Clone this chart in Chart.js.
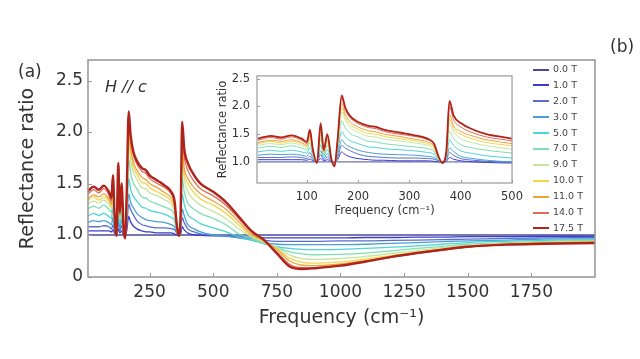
<!DOCTYPE html>
<html lang="en">
<head>
  <meta charset="UTF-8">
  <title>Reflectance ratio vs frequency</title>
  <script src="https://cdn.jsdelivr.net/npm/chart.js"></script>
  <style>
    body {
      margin: 0;
      background: #fff;
      font-family: "DejaVu Sans", sans-serif;
      color: #333;
    }
    #wrap {
      position: relative;
      width: 640px;
      height: 359px;
      overflow: hidden;
    }
    #mainChart { position: absolute; left: 0; top: 0; }
    #insetChart { position: absolute; left: 195px; top: 62px; }
    .tag {
      position: absolute;
      font-size: 17px;
      line-height: 20px;
      color: #333;
    }
    #legend {
      position: absolute;
      left: 533px;
      top: 61px;
      font-size: 9.5px;
      color: #444;
    }
    #legend div {
      height: 15.9px;
      line-height: 15.9px;
      white-space: nowrap;
    }
    #legend .sw {
      display: inline-block;
      width: 16px;
      height: 2px;
      vertical-align: middle;
      margin-right: 4px;
    }
  </style>
</head>
<body>
  <div id="wrap">
    <canvas id="mainChart" width="640" height="359"></canvas>
    <canvas id="insetChart" width="335" height="158"></canvas>
    <div class="tag" style="left:18px; top:61px;">(a)</div>
    <div class="tag" style="left:610px; top:36px;">(b)</div>
    <div class="tag" style="left:105px; top:77px; font-style:italic; font-size:16px;">H // c</div>
    <div id="legend"></div>
  </div>

  <script>
    // frequencies (cm-1) shared by every field
    const freq = [5, 30, 50, 70, 90, 100, 106, 112, 120, 127, 133, 140, 148, 154, 160, 168, 175, 185, 200,
      220, 235, 250, 280, 310, 335, 348, 356, 364, 372, 378, 386, 400, 425, 450, 500,
      550, 600, 650, 700, 750, 800, 850, 900, 1000, 1100, 1200, 1300, 1400, 1500, 1650, 1800, 2000];

    const fieldLabels = ['0.0 T', '1.0 T', '2.0 T', '3.0 T', '5.0 T', '7.0 T', '9.0 T', '10.0 T', '11.0 T', '14.0 T', '17.5 T'];
    const fieldColors = ['#4a4a9c', '#3c3cc8', '#5a6fcc', '#4a9fd6', '#4fd3d3', '#80deb0', '#c6e6a0', '#f0d54e', '#eca23e', '#e06a58', '#b0231a'];

    const t00 = [1, 1, 1, 1, 1, 1, 1, 1, 1, 1, 1, 1, 1, 1, 1, 1, 1, 1, 1, 1, 1, 1, 1, 1, 1, 1,
      1, 1, 1, 1, 1, 1, 1, 1, 1, 1, 1, 1, 1, 1, 1, 1, 1, 1, 1, 1, 1, 1, 1, 1, 1, 1];
    const t10 = [1.04, 1.04, 1.04, 1.04, 1.04, 1.03, 1.05, 1.02, 1.00, 1.06, 1.02, 1.04, 1.00, 0.99, 1.04,
      1.18, 1.13, 1.09, 1.06, 1.04, 1.03, 1.03, 1.02, 1.02, 1.02, 1.01, 1.00, 1.00, 1.01, 1.08, 1.05,
      1.02, 1.00, 0.99, 0.98, 0.98, 0.96, 0.95, 0.93, 0.93, 0.93, 0.93, 0.93, 0.93, 0.94, 0.94, 0.95,
      0.95, 0.96, 0.96, 0.97, 0.97];
    const t20 = [1.08, 1.08, 1.08, 1.09, 1.08, 1.06, 1.10, 1.04, 1.00, 1.13, 1.04, 1.09, 1.01, 0.99, 1.07,
      1.30, 1.25, 1.20, 1.14, 1.10, 1.09, 1.08, 1.07, 1.07, 1.06, 1.05, 1.02, 1.00, 1.03, 1.17, 1.12,
      1.06, 1.03, 1.01, 0.99, 0.97, 0.94, 0.91, 0.87, 0.85, 0.85, 0.85, 0.85, 0.86, 0.86, 0.87, 0.88,
      0.89, 0.90, 0.92, 0.93, 0.94];
    const t30 = [1.12, 1.14, 1.13, 1.14, 1.12, 1.10, 1.17, 1.06, 0.99, 1.20, 1.06, 1.15, 1.01, 0.98, 1.12,
      1.40, 1.32, 1.27, 1.21, 1.17, 1.15, 1.14, 1.13, 1.12, 1.10, 1.08, 1.03, 1.00, 1.05, 1.25, 1.19,
      1.10, 1.06, 1.03, 1.00, 0.98, 0.93, 0.88, 0.82, 0.78, 0.77, 0.77, 0.77, 0.77, 0.78, 0.80, 0.82,
      0.84, 0.86, 0.88, 0.90, 0.91];
    const t50 = [1.18, 1.21, 1.19, 1.21, 1.18, 1.16, 1.26, 1.10, 0.99, 1.31, 1.10, 1.22, 1.02, 0.96, 1.18,
      1.55, 1.45, 1.38, 1.33, 1.27, 1.26, 1.24, 1.22, 1.20, 1.17, 1.14, 1.04, 0.99, 1.07, 1.40, 1.30,
      1.20, 1.15, 1.11, 1.07, 1.03, 0.96, 0.88, 0.79, 0.72, 0.68, 0.66, 0.65, 0.66, 0.68, 0.71, 0.74,
      0.78, 0.82, 0.85, 0.87, 0.89];
    const t70 = [1.25, 1.28, 1.26, 1.29, 1.25, 1.22, 1.35, 1.13, 0.99, 1.42, 1.13, 1.30, 1.03, 0.95, 1.24,
      1.74, 1.61, 1.51, 1.45, 1.37, 1.36, 1.33, 1.30, 1.27, 1.24, 1.19, 1.06, 0.99, 1.10, 1.55, 1.42,
      1.31, 1.25, 1.21, 1.16, 1.10, 1.01, 0.92, 0.80, 0.70, 0.60, 0.55, 0.53, 0.54, 0.57, 0.62, 0.68,
      0.73, 0.78, 0.82, 0.85, 0.87];
    const t90 = [1.30, 1.33, 1.31, 1.34, 1.30, 1.26, 1.41, 1.16, 0.99, 1.50, 1.16, 1.36, 1.04, 0.94, 1.28,
      1.90, 1.74, 1.62, 1.54, 1.46, 1.45, 1.41, 1.38, 1.34, 1.30, 1.23, 1.08, 0.99, 1.13, 1.70, 1.54,
      1.42, 1.34, 1.29, 1.23, 1.16, 1.06, 0.96, 0.83, 0.70, 0.52, 0.44, 0.42, 0.44, 0.49, 0.56, 0.63,
      0.70, 0.75, 0.80, 0.83, 0.85];
    const t100 = [1.33, 1.37, 1.34, 1.37, 1.33, 1.28, 1.45, 1.17, 0.98, 1.55, 1.17, 1.39, 1.04, 0.94, 1.31,
      1.98, 1.80, 1.67, 1.59, 1.51, 1.50, 1.46, 1.42, 1.38, 1.33, 1.26, 1.09, 0.99, 1.14, 1.78, 1.60,
      1.50, 1.41, 1.35, 1.29, 1.21, 1.10, 0.99, 0.85, 0.68, 0.45, 0.35, 0.33, 0.36, 0.43, 0.51, 0.59,
      0.67, 0.73, 0.79, 0.82, 0.84];
    const t110 = [1.35, 1.39, 1.37, 1.40, 1.35, 1.30, 1.49, 1.18, 0.98, 1.59, 1.18, 1.42, 1.04, 0.93, 1.34,
      2.06, 1.86, 1.72, 1.63, 1.56, 1.54, 1.50, 1.46, 1.41, 1.36, 1.28, 1.09, 0.98, 1.15, 1.85, 1.65,
      1.55, 1.46, 1.40, 1.33, 1.25, 1.13, 1.01, 0.87, 0.66, 0.38, 0.28, 0.27, 0.31, 0.39, 0.48, 0.57,
      0.65, 0.72, 0.78, 0.81, 0.83];
    const t140 = [1.39, 1.44, 1.41, 1.45, 1.39, 1.33, 1.54, 1.20, 0.98, 1.65, 1.20, 1.47, 1.05, 0.93, 1.37,
      2.15, 1.94, 1.79, 1.69, 1.62, 1.60, 1.55, 1.50, 1.46, 1.40, 1.31, 1.11, 0.98, 1.18, 2.00, 1.76,
      1.63, 1.52, 1.45, 1.38, 1.29, 1.16, 1.03, 0.88, 0.60, 0.30, 0.22, 0.22, 0.28, 0.37, 0.47, 0.56,
      0.64, 0.71, 0.77, 0.80, 0.82];
    const t175 = [1.42, 1.47, 1.44, 1.48, 1.42, 1.36, 1.58, 1.22, 0.98, 1.70, 1.22, 1.50, 1.05, 0.92, 1.40,
      2.20, 1.98, 1.82, 1.72, 1.65, 1.63, 1.58, 1.53, 1.48, 1.42, 1.33, 1.12, 0.98, 1.20, 2.10, 1.84,
      1.70, 1.58, 1.50, 1.42, 1.32, 1.18, 1.04, 0.88, 0.56, 0.25, 0.19, 0.21, 0.27, 0.37, 0.48, 0.57,
      0.65, 0.72, 0.77, 0.79, 0.81];

    const series = [t00, t10, t20, t30, t50, t70, t90, t100, t110, t140, t175];

    const mainXTicks = [250, 500, 750, 1000, 1250, 1500, 1750];
    const mainYTicks = [0, 1.0, 1.5, 2.0, 2.5];
    const insetXTicks = [100, 200, 300, 400, 500];
    const insetYTicks = [1.0, 1.5, 2.0, 2.5];

    const FONT = '"DejaVu Sans", sans-serif';
    const FRAME = '#9a9a9a';

    // main y axis is squeezed below 1.0 (0..1 takes much less room than 1..2.7)
    const BREAK_FRAC = 42 / 217;
    class BrokenScale extends Chart.LinearScale {
      static id = 'broken';
      static defaults = Chart.LinearScale.defaults;
      getPixelForValue(value) {
        if (value === null || value === undefined || isNaN(value)) return NaN;
        let d;
        if (value <= 1) d = (value - this.min) / (1 - this.min) * BREAK_FRAC;
        else d = BREAK_FRAC + (value - 1) / (this.max - 1) * (1 - BREAK_FRAC);
        return this.getPixelForDecimal(d);
      }
      getValueForPixel(pixel) {
        const d = this.getDecimalForPixel(pixel);
        if (d <= BREAK_FRAC) return this.min + d / BREAK_FRAC * (1 - this.min);
        return 1 + (d - BREAK_FRAC) / (1 - BREAK_FRAC) * (this.max - 1);
      }
    }
    Chart.register(BrokenScale);

    // box around the plot plus short inward tick marks
    const framePlugin = {
      id: 'frame',
      afterDraw(chart, args, opts) {
        const { ctx, chartArea: a } = chart;
        const xs = chart.scales.x, ys = chart.scales.y;
        ctx.save();
        ctx.strokeStyle = opts.color;
        ctx.lineWidth = opts.width;
        ctx.strokeRect(a.left, a.top, a.right - a.left, a.bottom - a.top);
        ctx.lineWidth = 1;
        ctx.beginPath();
        xs.ticks.forEach(t => {
          const px = Math.round(xs.getPixelForValue(t.value)) + 0.5;
          ctx.moveTo(px, a.bottom);
          ctx.lineTo(px, a.bottom - opts.tick);
        });
        ys.ticks.forEach(t => {
          const py = Math.round(ys.getPixelForValue(t.value)) + 0.5;
          ctx.moveTo(a.left, py);
          ctx.lineTo(a.left + opts.tick, py);
        });
        ctx.stroke();
        ctx.restore();
      }
    };

    function makeDatasets(redWidth, otherWidth) {
      return series.map((vals, i) => ({
        label: fieldLabels[i],
        data: freq.map((f, j) => ({ x: f, y: vals[j] })),
        borderColor: fieldColors[i],
        borderWidth: i === series.length - 1 ? redWidth : otherWidth,
        pointRadius: 0,
        cubicInterpolationMode: 'monotone',
        order: series.length - 1 - i
      }));
    }

    new Chart(document.getElementById('mainChart'), {
      type: 'line',
      data: { datasets: makeDatasets(2.4, 1.3) },
      options: {
        responsive: false,
        animation: false,
        devicePixelRatio: 1,
        layout: { padding: { left: 0, top: 60, right: 45, bottom: 0 } },
        plugins: {
          legend: { display: false },
          tooltip: { enabled: false },
          frame: { color: FRAME, width: 1.6, tick: 4 }
        },
        scales: {
          x: {
            type: 'linear',
            min: 8,
            max: 2000,
            grid: { display: false, drawTicks: false },
            border: { display: false },
            afterBuildTicks: s => { s.ticks = mainXTicks.map(v => ({ value: v })); },
            afterFit: s => { s.height = 82; },
            ticks: { autoSkip: false, maxRotation: 0, padding: 5, color: '#333', font: { size: 17, family: FONT }, callback: v => String(v) },
            title: { display: true, text: 'Frequency (cm⁻¹)', color: '#333', font: { size: 19, family: FONT }, padding: { top: 0, bottom: 29.6 } }
          },
          y: {
            type: 'broken',
            min: 0,
            max: 2.7,
            grid: { display: false, drawTicks: false },
            border: { display: false },
            afterBuildTicks: s => { s.ticks = mainYTicks.map(v => ({ value: v })); },
            afterFit: s => { s.width = 88; },
            ticks: { padding: 5, color: '#333', font: { size: 17, family: FONT }, callback: v => v === 0 ? '0' : v.toFixed(1) },
            title: { display: true, text: 'Reflectance ratio', color: '#333', font: { size: 19, family: FONT }, padding: { top: 16.6, bottom: 0 } }
          }
        }
      },
      plugins: [framePlugin]
    });

    new Chart(document.getElementById('insetChart'), {
      type: 'line',
      data: { datasets: makeDatasets(1.8, 1.0) },
      options: {
        responsive: false,
        animation: false,
        devicePixelRatio: 1,
        layout: { padding: { left: 0, top: 12, right: 16, bottom: 0 } },
        plugins: {
          legend: { display: false },
          tooltip: { enabled: false },
          frame: { color: FRAME, width: 1.2, tick: 3 }
        },
        scales: {
          x: {
            type: 'linear',
            min: 3,
            max: 500,
            grid: { display: false, drawTicks: false },
            border: { display: false },
            afterBuildTicks: s => { s.ticks = insetXTicks.map(v => ({ value: v })); },
            afterFit: s => { s.height = 37; },
            ticks: { autoSkip: false, maxRotation: 0, padding: 7, color: '#333', font: { size: 11.5, family: FONT }, callback: v => String(v) },
            title: { display: true, text: 'Frequency (cm⁻¹)', color: '#333', font: { size: 11.5, family: FONT }, padding: { top: 0, bottom: 2.1 } }
          },
          y: {
            type: 'linear',
            min: 0.62,
            max: 2.55,
            grid: { display: false, drawTicks: false },
            border: { display: false },
            afterBuildTicks: s => { s.ticks = insetYTicks.map(v => ({ value: v })); },
            afterFit: s => { s.width = 62; },
            ticks: { padding: 7, color: '#333', font: { size: 11.5, family: FONT }, callback: v => v.toFixed(1) },
            title: { display: true, text: 'Reflectance ratio', color: '#333', font: { size: 11.5, family: FONT }, padding: { top: 21, bottom: 0 } }
          }
        }
      },
      plugins: [framePlugin]
    });

    // legend for the field values
    const legend = document.getElementById('legend');
    fieldLabels.forEach((lab, i) => {
      const row = document.createElement('div');
      const sw = document.createElement('span');
      sw.className = 'sw';
      sw.style.background = fieldColors[i];
      row.appendChild(sw);
      row.appendChild(document.createTextNode(lab));
      legend.appendChild(row);
    });
  </script>
</body>
</html>
